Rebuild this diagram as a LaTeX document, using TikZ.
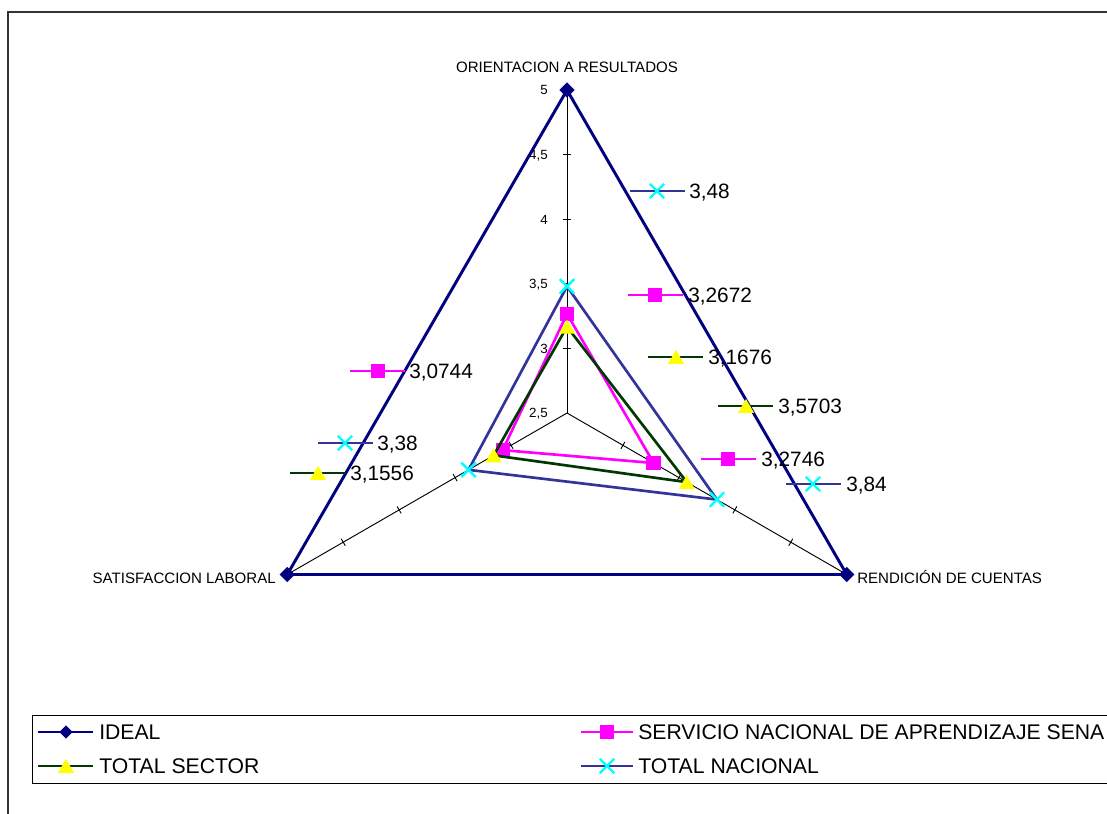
\documentclass[tikz,border=0pt]{standalone}
\usepackage{fontspec}
\setmainfont{Liberation Sans}
\usetikzlibrary{shapes.geometric,shapes.misc}
\definecolor{idealc}{RGB}{0,0,128}
\definecolor{senac}{RGB}{255,0,255}
\definecolor{sectc}{RGB}{0,56,0}
\definecolor{nacc}{RGB}{51,51,153}
\definecolor{xcyan}{RGB}{0,255,255}
\definecolor{triy}{RGB}{255,255,0}
\begin{document}
\begin{tikzpicture}[x=0.75pt,y=-0.75pt,
  frame/.style={draw=black!80,line width=1.1pt},
  axisln/.style={draw=black,line width=0.7pt},
  ideal/.style={draw=idealc,line width=2.2pt,line join=miter},
  sena/.style={draw=senac,line width=2pt},
  sect/.style={draw=sectc,line width=2pt},
  nac/.style={draw=nacc,line width=2pt},
  mdia/.style={diamond,fill=idealc,inner sep=0pt,minimum width=11.5pt,minimum height=11.5pt},
  msq/.style={rectangle,fill=senac,inner sep=0pt,minimum size=10.8pt},
  mtri/.style={regular polygon,regular polygon sides=3,fill=triy,inner sep=0pt,minimum size=14pt,yshift=-1.7pt},
  mx/.style={cross out,draw=xcyan,line width=1.8pt,inner sep=0pt,minimum size=9pt},
  axlab/.style={inner sep=0pt,font=\fontsize{11.3}{13}\selectfont,text height=8.1pt,text depth=0pt},
  ticklab/.style={anchor=east,inner sep=0pt,font=\fontsize{10}{12}\selectfont,text height=7.2pt,text depth=0pt},
  dlab/.style={anchor=west,inner sep=0pt,font=\fontsize{15.6}{18}\selectfont,text height=11.2pt,text depth=0pt},
  leglab/.style={anchor=west,inner sep=0pt,font=\fontsize{15.9}{18}\selectfont,text height=11.4pt,text depth=0pt},
  legbox/.style={draw=black,line width=0.75pt}
]
\useasboundingbox (0,0) rectangle (1107,814);
\fill[white] (0,0) rectangle (1107,814);
\clip (0,0) rectangle (1107,814);
% outer chart frame
\draw[frame] (8,12) rectangle (1140,850);

% radar geometry
\begin{scope}[shift={(567,413)}]
  \coordinate (C) at (0,0);
  \coordinate (vO) at (-90:323);
  \coordinate (vR) at (30:323);
  \coordinate (vS) at (150:323);
  % SENA
  \coordinate (sO) at (-90:{(3.2672-2.5)*129.2});
  \coordinate (sR) at (30:{(3.2746-2.5)*129.2});
  \coordinate (sS) at (150:{(3.0744-2.5)*129.2});
  % TOTAL SECTOR
  \coordinate (tO) at (-90:{(3.1676-2.5)*129.2});
  \coordinate (tR) at (30:{(3.5703-2.5)*129.2});
  \coordinate (tS) at (150:{(3.1556-2.5)*129.2});
  % TOTAL NACIONAL
  \coordinate (nO) at (-90:{(3.48-2.5)*129.2});
  \coordinate (nR) at (30:{(3.84-2.5)*129.2});
  \coordinate (nS) at (150:{(3.38-2.5)*129.2});
  % axes
  \draw[axisln] (C) -- (vO);
  \draw[axisln] (C) -- (vR);
  \draw[axisln] (C) -- (vS);
  \foreach \a in {-90,30,150}{
    \foreach \k in {1,2,3,4}{
      \draw[axisln] (\a:{\k*64.6}) ++({\a+90}:4) -- ++({\a-90}:8);
    }
  }
\end{scope}

% tick labels
\node[ticklab] (k5) at (548,90) {5};
\node[ticklab] (k45) at (548,154.6) {4,5};
\node[ticklab] (k4) at (548,219.2) {4};
\node[ticklab] (k35) at (548,283.8) {3,5};
\node[ticklab] (k3) at (548,348.4) {3};
\node[ticklab] (k25) at (548,413) {2,5};

% axis labels
\node[axlab,anchor=center] (lO) at (567,67) {ORIENTACION A RESULTADOS};
\node[axlab,anchor=east] (lS) at (276,578) {SATISFACCION LABORAL};
\node[axlab,anchor=west] (lR) at (857,578) {RENDICIÓN DE CUENTAS};

% IDEAL
\draw[ideal] (vO) -- (vR) -- (vS) -- cycle;
\node[mdia] (mvO) at (vO) {};
\node[mdia] (mvR) at (vR) {};
\node[mdia] (mvS) at (vS) {};
% SENA
\draw[sena] (sO) -- (sR) -- (sS) -- cycle;
\node[msq] (msO) at (sO) {};
\node[msq] (msR) at (sR) {};
\node[msq] (msS) at (sS) {};
% TOTAL SECTOR
\draw[sect] (tO) -- (tR) -- (tS) -- cycle;
\node[mtri] (mtO) at (tO) {};
\node[mtri] (mtR) at (tR) {};
\node[mtri] (mtS) at (tS) {};
% TOTAL NACIONAL
\draw[nac] (nO) -- (nR) -- (nS) -- cycle;
\node[mx] (mnO) at (nO) {};
\node[mx] (mnR) at (nR) {};
\node[mx] (mnS) at (nS) {};

% data labels with legend keys
\coordinate (d1a) at (630,191); \coordinate (d1b) at (685,191);
\draw[nac] (d1a) -- (d1b); \node[mx] (d1m) at (657,191) {};
\node[dlab] (d1t) at (689,191) {3,48};

\coordinate (d2a) at (628,295); \coordinate (d2b) at (683,295);
\draw[sena] (d2a) -- (d2b); \node[msq] (d2m) at (655,295) {};
\node[dlab] (d2t) at (688,295) {3,2672};

\coordinate (d3a) at (648,357); \coordinate (d3b) at (703,357);
\draw[sect] (d3a) -- (d3b); \node[mtri] (d3m) at (676,357) {};
\node[dlab] (d3t) at (708,357) {3,1676};

\coordinate (d4a) at (718,406); \coordinate (d4b) at (773,406);
\draw[sect] (d4a) -- (d4b); \node[mtri] (d4m) at (746,406) {};
\node[dlab] (d4t) at (778,406) {3,5703};

\coordinate (d5a) at (701,459); \coordinate (d5b) at (756,459);
\draw[sena] (d5a) -- (d5b); \node[msq] (d5m) at (728,459) {};
\node[dlab] (d5t) at (761,459) {3,2746};

\coordinate (d6a) at (786,484); \coordinate (d6b) at (841,484);
\draw[nac] (d6a) -- (d6b); \node[mx] (d6m) at (813,484) {};
\node[dlab] (d6t) at (846,484) {3,84};

\coordinate (d7a) at (350,371); \coordinate (d7b) at (405,371);
\draw[sena] (d7a) -- (d7b); \node[msq] (d7m) at (378,371) {};
\node[dlab] (d7t) at (409,371) {3,0744};

\coordinate (d8a) at (318,443); \coordinate (d8b) at (373,443);
\draw[nac] (d8a) -- (d8b); \node[mx] (d8m) at (345,443) {};
\node[dlab] (d8t) at (377,443) {3,38};

\coordinate (d9a) at (290,473); \coordinate (d9b) at (346,473);
\draw[sect] (d9a) -- (d9b); \node[mtri] (d9m) at (318,473) {};
\node[dlab] (d9t) at (350,473) {3,1556};

% legend
\draw[legbox] (1140,715) -- (32,715) -- (32,783) -- (1140,783);
\coordinate (g1a) at (38,732); \coordinate (g1b) at (93,732);
\draw[draw=idealc,line width=2pt] (g1a) -- (g1b); \node[mdia,minimum width=10pt,minimum height=10pt] (g1m) at (66,732) {};
\node[leglab] (g1t) at (99,732) {IDEAL};

\coordinate (g2a) at (38,766); \coordinate (g2b) at (93,766);
\draw[sect] (g2a) -- (g2b); \node[mtri] (g2m) at (66,766) {};
\node[leglab] (g2t) at (99,766) {TOTAL SECTOR};

\coordinate (g3a) at (581,732); \coordinate (g3b) at (633,732);
\draw[sena] (g3a) -- (g3b); \node[msq] (g3m) at (607,732) {};
\node[leglab] (g3t) at (638,732) {SERVICIO NACIONAL DE APRENDIZAJE SENA};

\coordinate (g4a) at (581,766); \coordinate (g4b) at (633,766);
\draw[nac] (g4a) -- (g4b); \node[mx] (g4m) at (607,766) {};
\node[leglab] (g4t) at (638,766) {TOTAL NACIONAL};
\end{tikzpicture}
\end{document}
